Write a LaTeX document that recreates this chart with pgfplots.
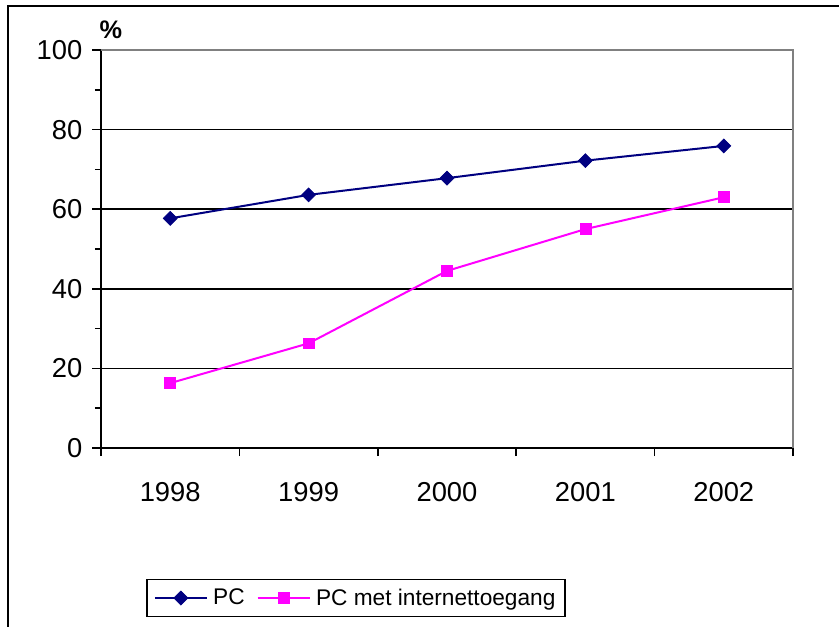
\documentclass[border=0pt]{standalone}
\usepackage{pgfplots}
\pgfplotsset{compat=1.18}
\usepackage{fontspec}
\setmainfont{Liberation Sans}
\definecolor{pcblue}{RGB}{0,0,128}
\definecolor{pcmag}{RGB}{255,0,255}
\definecolor{framegray}{RGB}{128,128,128}

\begin{document}
\begin{tikzpicture}
% page size = reference size (839x626 px at 0.75pt/px)
\path[use as bounding box] (-75.75pt,-133.5pt) rectangle (553.5pt,336pt);
% outer chart frame (only left and top show in the reference)
\draw[line width=1.5pt] (-69.75pt,-150pt) -- (-69.75pt,331.5pt) -- (600pt,331.5pt);

\begin{axis}[
    at={(0,0)}, anchor=south west,
    scale only axis,
    width=519pt, height=298.5pt,
    xmin=0.5, xmax=5.5,
    ymin=0, ymax=100,
    axis lines*=left,
    axis line style={line width=1.6pt, black},
    xtick={1,2,3,4,5},
    xticklabels={1998,1999,2000,2001,2002},
    minor xtick={0.5,1.5,2.5,3.5,4.5,5.5},
    ytick={0,20,40,60,80,100},
    minor ytick={10,30,50,70,90},
    tick align=outside,
    major tick length=6.5pt,
    minor tick length=4.5pt,
    xtick style={draw=none},
    minor x tick style={draw=black, line width=1.1pt, /pgfplots/minor tick length=6pt},
    ytick style={line width=1.1pt, black},
    ymajorgrids,
    major grid style={line width=1.1pt, black},
    tick label style={font=\fontsize{20.5}{24}\selectfont},
    /pgf/number format/assume math mode=true,
    xticklabel style={yshift=-16pt},
    yticklabel style={xshift=-4pt},
    clip=false,
    legend style={
        at={(0.3685,-0.377)}, anchor=center,
        draw=black, line width=1.2pt,
        font=\fontsize{17pt}{21pt}\selectfont,
        legend columns=2,
        /tikz/every even column/.append style={column sep=7pt},
        /tikz/every odd column/.append style={column sep=2pt},
        inner xsep=5pt, inner ysep=5pt,
    },
    legend image code/.code={
        \draw[#1, line width=1.5pt] (0cm,0cm) -- (39pt,0cm);
        \path[#1] plot coordinates {(19.5pt,0cm)};
    },
]
\addplot[pcblue, line width=1.5pt, mark=square*,
    mark size=3.7pt, mark options={rotate=45, fill=pcblue, line width=0.5pt}]
    coordinates {(1,57.7) (2,63.6) (3,67.8) (4,72.2) (5,75.9)};
\addplot[pcmag, line width=1.5pt, mark=square*,
    mark size=4.1pt, mark options={fill=pcmag, line width=0.5pt}]
    coordinates {(1,16.3) (2,26.3) (3,44.5) (4,55.0) (5,63.0)};
\legend{PC, PC met internettoegang}
% plot area border, grey on top and right
\draw[framegray, line width=1.6pt]
    (axis cs:0.5,100) -- (axis cs:5.5,100) -- (axis cs:5.5,0);
\node[font=\bfseries\fontsize{19pt}{23pt}\selectfont]
    at (axis cs:0.5,100) [xshift=7.5pt, yshift=15.5pt] {\%};
\end{axis}
\end{tikzpicture}
\end{document}
